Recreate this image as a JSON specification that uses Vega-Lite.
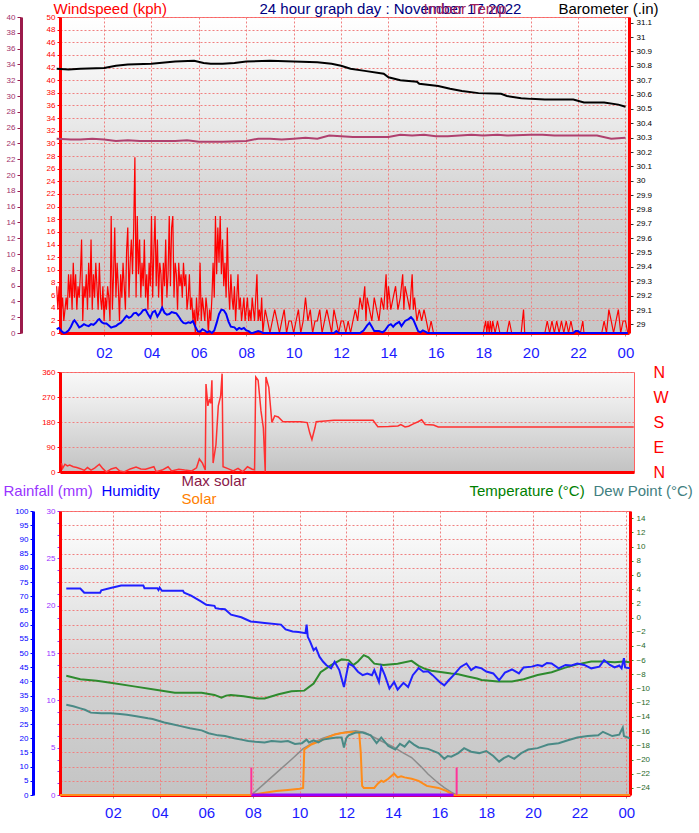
{
"$schema": "https://vega.github.io/schema/vega-lite/v6.json",
"padding": {"left": 2, "top": 0, "right": 2, "bottom": 0},
"background": "white",
"config": {"font": "Liberation Sans", "view": {"stroke": "#ff5050"}},
"datasets": {
"gust": [{"t":0,"v":7.4},{"t":0.05,"v":3.7},{"t":0.1,"v":7.4},{"t":0.15,"v":1.9},{"t":0.2,"v":3.7},{"t":0.25,"v":5.6},{"t":0.3,"v":1.9},{"t":0.35,"v":3.7},{"t":0.4,"v":5.6},{"t":0.45,"v":3.7},{"t":0.5,"v":9.3},{"t":0.55,"v":5.6},{"t":0.6,"v":9.3},{"t":0.65,"v":3.7},{"t":0.7,"v":11.1},{"t":0.75,"v":5.6},{"t":0.8,"v":9.3},{"t":0.85,"v":3.7},{"t":0.9,"v":7.4},{"t":0.95,"v":5.6},{"t":1,"v":9.3},{"t":1.05,"v":14.8},{"t":1.1,"v":1.9},{"t":1.15,"v":7.4},{"t":1.2,"v":5.6},{"t":1.25,"v":9.3},{"t":1.3,"v":3.7},{"t":1.35,"v":11.1},{"t":1.4,"v":5.6},{"t":1.45,"v":14.8},{"t":1.5,"v":3.7},{"t":1.55,"v":9.3},{"t":1.6,"v":5.6},{"t":1.65,"v":11.1},{"t":1.7,"v":7.4},{"t":1.75,"v":3.7},{"t":1.8,"v":11.1},{"t":1.85,"v":5.6},{"t":1.9,"v":3.7},{"t":1.95,"v":7.4},{"t":2,"v":1.9},{"t":2.05,"v":5.6},{"t":2.1,"v":3.7},{"t":2.15,"v":7.4},{"t":2.2,"v":5.6},{"t":2.25,"v":1.9},{"t":2.3,"v":18.5},{"t":2.35,"v":3.7},{"t":2.4,"v":9.3},{"t":2.45,"v":16.7},{"t":2.5,"v":5.6},{"t":2.55,"v":11.1},{"t":2.6,"v":7.4},{"t":2.65,"v":1.9},{"t":2.7,"v":9.3},{"t":2.75,"v":5.6},{"t":2.8,"v":11.1},{"t":2.85,"v":7.4},{"t":2.9,"v":3.7},{"t":2.95,"v":13},{"t":3,"v":16.7},{"t":3.05,"v":5.6},{"t":3.1,"v":11.1},{"t":3.15,"v":14.8},{"t":3.2,"v":9.3},{"t":3.25,"v":16.7},{"t":3.3,"v":27.8},{"t":3.35,"v":5.6},{"t":3.4,"v":18.5},{"t":3.45,"v":9.3},{"t":3.5,"v":14.8},{"t":3.55,"v":5.6},{"t":3.6,"v":11.1},{"t":3.65,"v":7.4},{"t":3.7,"v":14.8},{"t":3.75,"v":5.6},{"t":3.8,"v":9.3},{"t":3.85,"v":3.7},{"t":3.9,"v":11.1},{"t":3.95,"v":7.4},{"t":4,"v":18.5},{"t":4.05,"v":5.6},{"t":4.1,"v":13},{"t":4.15,"v":18.5},{"t":4.2,"v":7.4},{"t":4.25,"v":14.8},{"t":4.3,"v":5.6},{"t":4.35,"v":11.1},{"t":4.4,"v":9.3},{"t":4.45,"v":3.7},{"t":4.5,"v":11.1},{"t":4.55,"v":7.4},{"t":4.6,"v":14.8},{"t":4.65,"v":5.6},{"t":4.7,"v":9.3},{"t":4.75,"v":18.5},{"t":4.8,"v":7.4},{"t":4.85,"v":16.7},{"t":4.9,"v":18.5},{"t":4.95,"v":5.6},{"t":5,"v":11.1},{"t":5.05,"v":9.3},{"t":5.1,"v":3.7},{"t":5.15,"v":11.1},{"t":5.2,"v":7.4},{"t":5.25,"v":9.3},{"t":5.3,"v":5.6},{"t":5.35,"v":11.1},{"t":5.4,"v":7.4},{"t":5.45,"v":9.3},{"t":5.5,"v":3.7},{"t":5.55,"v":5.6},{"t":5.6,"v":9.3},{"t":5.65,"v":3.7},{"t":5.7,"v":5.6},{"t":5.75,"v":1.9},{"t":5.8,"v":3.7},{"t":5.85,"v":0},{"t":5.9,"v":5.6},{"t":5.95,"v":1.9},{"t":6,"v":3.7},{"t":6.05,"v":11.1},{"t":6.1,"v":1.9},{"t":6.15,"v":5.6},{"t":6.2,"v":3.7},{"t":6.25,"v":1.9},{"t":6.3,"v":5.6},{"t":6.35,"v":3.7},{"t":6.4,"v":0},{"t":6.45,"v":3.7},{"t":6.5,"v":1.9},{"t":6.55,"v":5.6},{"t":6.6,"v":11.1},{"t":6.65,"v":5.6},{"t":6.7,"v":18.5},{"t":6.75,"v":9.3},{"t":6.8,"v":16.7},{"t":6.85,"v":11.1},{"t":6.9,"v":18.5},{"t":6.95,"v":9.3},{"t":7,"v":14.8},{"t":7.05,"v":7.4},{"t":7.1,"v":11.1},{"t":7.15,"v":5.6},{"t":7.2,"v":16.7},{"t":7.25,"v":7.4},{"t":7.3,"v":3.7},{"t":7.35,"v":9.3},{"t":7.4,"v":5.6},{"t":7.45,"v":3.7},{"t":7.5,"v":7.4},{"t":7.55,"v":1.9},{"t":7.6,"v":5.6},{"t":7.65,"v":9.3},{"t":7.7,"v":3.7},{"t":7.75,"v":5.6},{"t":7.8,"v":1.9},{"t":7.85,"v":3.7},{"t":7.9,"v":5.6},{"t":7.95,"v":1.9},{"t":8,"v":3.7},{"t":8.05,"v":5.6},{"t":8.1,"v":1.9},{"t":8.15,"v":3.7},{"t":8.2,"v":1.9},{"t":8.25,"v":5.6},{"t":8.3,"v":3.7},{"t":8.35,"v":1.9},{"t":8.4,"v":5.6},{"t":8.45,"v":9.3},{"t":8.5,"v":1.9},{"t":8.55,"v":3.7},{"t":8.6,"v":1.9},{"t":8.65,"v":5.6},{"t":8.7,"v":0},{"t":8.75,"v":1.9},{"t":8.8,"v":3.7},{"t":8.9,"v":1.9},{"t":9,"v":0},{"t":9.1,"v":1.9},{"t":9.2,"v":3.7},{"t":9.3,"v":1.9},{"t":9.4,"v":0},{"t":9.5,"v":1.9},{"t":9.6,"v":3.7},{"t":9.7,"v":0},{"t":9.8,"v":1.9},{"t":9.9,"v":1.9},{"t":10,"v":0},{"t":10.1,"v":1.9},{"t":10.2,"v":3.7},{"t":10.3,"v":0},{"t":10.4,"v":1.9},{"t":10.5,"v":5.6},{"t":10.6,"v":1.9},{"t":10.7,"v":3.7},{"t":10.8,"v":0},{"t":10.9,"v":1.9},{"t":11,"v":1.9},{"t":11.1,"v":3.7},{"t":11.2,"v":0},{"t":11.3,"v":1.9},{"t":11.4,"v":3.7},{"t":11.5,"v":1.9},{"t":11.6,"v":0},{"t":11.7,"v":3.7},{"t":11.8,"v":1.9},{"t":11.9,"v":0},{"t":12,"v":1.9},{"t":12.1,"v":1.9},{"t":12.2,"v":0},{"t":12.3,"v":1.9},{"t":12.4,"v":0},{"t":12.5,"v":1.9},{"t":12.6,"v":3.7},{"t":12.7,"v":1.9},{"t":12.8,"v":5.6},{"t":12.9,"v":3.7},{"t":13,"v":7.4},{"t":13.05,"v":1.9},{"t":13.1,"v":5.6},{"t":13.2,"v":3.7},{"t":13.3,"v":1.9},{"t":13.4,"v":5.6},{"t":13.5,"v":3.7},{"t":13.6,"v":1.9},{"t":13.7,"v":5.6},{"t":13.8,"v":3.7},{"t":13.9,"v":9.3},{"t":13.95,"v":3.7},{"t":14,"v":7.4},{"t":14.1,"v":3.7},{"t":14.2,"v":5.6},{"t":14.3,"v":7.4},{"t":14.4,"v":3.7},{"t":14.5,"v":5.6},{"t":14.6,"v":9.3},{"t":14.65,"v":3.7},{"t":14.7,"v":7.4},{"t":14.8,"v":5.6},{"t":14.9,"v":3.7},{"t":15,"v":9.3},{"t":15.05,"v":3.7},{"t":15.1,"v":5.6},{"t":15.2,"v":1.9},{"t":15.3,"v":3.7},{"t":15.4,"v":1.9},{"t":15.5,"v":3.7},{"t":15.6,"v":1.9},{"t":15.7,"v":0},{"t":15.8,"v":1.9},{"t":15.9,"v":0},{"t":18,"v":0},{"t":18.1,"v":1.9},{"t":18.15,"v":0},{"t":18.2,"v":1.9},{"t":18.25,"v":0},{"t":18.3,"v":1.9},{"t":18.35,"v":0},{"t":18.4,"v":1.9},{"t":18.5,"v":0},{"t":18.6,"v":1.9},{"t":18.7,"v":0},{"t":19,"v":0},{"t":19.1,"v":1.9},{"t":19.2,"v":0},{"t":19.6,"v":0},{"t":19.7,"v":3.7},{"t":19.75,"v":0},{"t":20.6,"v":0},{"t":20.7,"v":1.9},{"t":20.8,"v":0},{"t":20.9,"v":1.9},{"t":21,"v":0},{"t":21.1,"v":1.9},{"t":21.2,"v":0},{"t":21.3,"v":1.9},{"t":21.4,"v":0},{"t":21.5,"v":1.9},{"t":21.6,"v":0},{"t":21.7,"v":1.9},{"t":21.8,"v":0},{"t":22.1,"v":0},{"t":22.2,"v":1.9},{"t":22.25,"v":0},{"t":23,"v":0},{"t":23.1,"v":1.9},{"t":23.2,"v":0},{"t":23.3,"v":3.7},{"t":23.4,"v":1.9},{"t":23.5,"v":0},{"t":23.6,"v":1.9},{"t":23.7,"v":3.7},{"t":23.8,"v":0},{"t":23.9,"v":1.9},{"t":24,"v":1.9},{"t":24.1,"v":0}],
"avg": [{"t":0,"v":0.6},{"t":0.1,"v":0.8},{"t":0.2,"v":0.3},{"t":0.3,"v":0},{"t":0.4,"v":0.1},{"t":0.5,"v":0.4},{"t":0.6,"v":1},{"t":0.7,"v":1.8},{"t":0.75,"v":2},{"t":0.85,"v":1.5},{"t":0.95,"v":0.9},{"t":1.05,"v":1.1},{"t":1.15,"v":1.4},{"t":1.25,"v":1.2},{"t":1.35,"v":1.1},{"t":1.45,"v":1.4},{"t":1.55,"v":1.3},{"t":1.65,"v":1.6},{"t":1.75,"v":2.1},{"t":1.8,"v":2.2},{"t":1.9,"v":1.7},{"t":2,"v":1.5},{"t":2.1,"v":1.5},{"t":2.2,"v":1.2},{"t":2.3,"v":0.85},{"t":2.4,"v":1},{"t":2.5,"v":1.1},{"t":2.6,"v":1.4},{"t":2.7,"v":1.6},{"t":2.8,"v":2},{"t":2.9,"v":2.5},{"t":2.95,"v":2.7},{"t":3.05,"v":2.4},{"t":3.15,"v":2.6},{"t":3.25,"v":3.1},{"t":3.35,"v":3.2},{"t":3.45,"v":2.8},{"t":3.55,"v":3.1},{"t":3.65,"v":3.6},{"t":3.75,"v":3.7},{"t":3.85,"v":3},{"t":3.95,"v":2.4},{"t":4.05,"v":3.3},{"t":4.15,"v":3.5},{"t":4.25,"v":2.6},{"t":4.35,"v":3.2},{"t":4.45,"v":4},{"t":4.55,"v":3.2},{"t":4.65,"v":2.9},{"t":4.75,"v":3},{"t":4.85,"v":3.3},{"t":4.95,"v":3.2},{"t":5.05,"v":3.1},{"t":5.15,"v":2.6},{"t":5.25,"v":2},{"t":5.35,"v":1.6},{"t":5.45,"v":1.5},{"t":5.55,"v":1.7},{"t":5.65,"v":1.6},{"t":5.75,"v":1.9},{"t":5.85,"v":1},{"t":5.95,"v":0.3},{"t":6.05,"v":0.2},{"t":6.15,"v":0.6},{"t":6.25,"v":0.4},{"t":6.35,"v":0.1},{"t":6.45,"v":0.3},{"t":6.55,"v":0},{"t":6.65,"v":0.4},{"t":6.75,"v":1.6},{"t":6.85,"v":3},{"t":6.95,"v":3.7},{"t":7.05,"v":3.6},{"t":7.15,"v":3},{"t":7.25,"v":1.8},{"t":7.35,"v":1},{"t":7.5,"v":0.9},{"t":7.6,"v":0.5},{"t":7.7,"v":0.8},{"t":7.8,"v":0.6},{"t":7.9,"v":0.8},{"t":8,"v":0.4},{"t":8.1,"v":0.3},{"t":8.2,"v":0},{"t":8.3,"v":0.05},{"t":8.5,"v":0.3},{"t":8.6,"v":0.2},{"t":8.7,"v":0},{"t":11.7,"v":0},{"t":11.8,"v":0.3},{"t":11.9,"v":0},{"t":12.8,"v":0},{"t":12.95,"v":0.4},{"t":13.1,"v":1.2},{"t":13.2,"v":1.6},{"t":13.3,"v":1},{"t":13.4,"v":0.3},{"t":13.6,"v":0.3},{"t":13.75,"v":0.1},{"t":13.85,"v":0.4},{"t":14,"v":1.2},{"t":14.1,"v":1.4},{"t":14.2,"v":1},{"t":14.3,"v":1.4},{"t":14.45,"v":1.75},{"t":14.55,"v":1.1},{"t":14.7,"v":1.9},{"t":14.85,"v":2.2},{"t":14.95,"v":2.5},{"t":15.05,"v":2.1},{"t":15.15,"v":1.2},{"t":15.25,"v":0.3},{"t":15.35,"v":0.1},{"t":15.45,"v":0.4},{"t":15.55,"v":0.2},{"t":15.65,"v":0},{"t":21.8,"v":0},{"t":21.9,"v":0.3},{"t":22,"v":0.3},{"t":22.1,"v":0},{"t":24.1,"v":0}],
"baro": [{"t":0,"v":30.78},{"t":0.5,"v":30.775},{"t":1,"v":30.78},{"t":2,"v":30.785},{"t":2.5,"v":30.8},{"t":3,"v":30.81},{"t":4,"v":30.815},{"t":5,"v":30.83},{"t":5.8,"v":30.835},{"t":6.2,"v":30.82},{"t":6.5,"v":30.815},{"t":7,"v":30.815},{"t":7.5,"v":30.82},{"t":8,"v":30.83},{"t":9,"v":30.835},{"t":10,"v":30.83},{"t":11,"v":30.825},{"t":11.6,"v":30.815},{"t":12,"v":30.8},{"t":12.4,"v":30.78},{"t":13,"v":30.765},{"t":13.8,"v":30.745},{"t":14,"v":30.72},{"t":14.5,"v":30.7},{"t":15.2,"v":30.69},{"t":15.3,"v":30.675},{"t":16.1,"v":30.66},{"t":16.6,"v":30.64},{"t":17.1,"v":30.625},{"t":17.8,"v":30.61},{"t":18.75,"v":30.605},{"t":19,"v":30.59},{"t":19.6,"v":30.575},{"t":20,"v":30.57},{"t":20.6,"v":30.565},{"t":21.8,"v":30.565},{"t":22.25,"v":30.545},{"t":23.1,"v":30.545},{"t":23.7,"v":30.53},{"t":24,"v":30.515}],
"indoor": [{"t":0,"v":24.6},{"t":0.6,"v":24.5},{"t":1,"v":24.5},{"t":1.5,"v":24.6},{"t":2,"v":24.5},{"t":2.5,"v":24.3},{"t":3,"v":24.4},{"t":3.5,"v":24.3},{"t":4,"v":24.3},{"t":5,"v":24.3},{"t":5.5,"v":24.4},{"t":6,"v":24.2},{"t":7,"v":24.2},{"t":8,"v":24.3},{"t":8.5,"v":24.6},{"t":9,"v":24.6},{"t":9.5,"v":24.5},{"t":10,"v":24.6},{"t":10.5,"v":24.7},{"t":11,"v":24.6},{"t":11.5,"v":25},{"t":12,"v":24.9},{"t":12.5,"v":24.8},{"t":13,"v":24.8},{"t":14,"v":24.8},{"t":14.5,"v":25.1},{"t":15,"v":25},{"t":15.5,"v":25.1},{"t":16,"v":24.9},{"t":16.5,"v":24.9},{"t":17,"v":25},{"t":17.5,"v":25.1},{"t":18,"v":25},{"t":18.6,"v":25.1},{"t":19,"v":25},{"t":20,"v":25.1},{"t":20.5,"v":25.1},{"t":21,"v":25},{"t":22,"v":25},{"t":22.8,"v":25},{"t":23.4,"v":24.6},{"t":24,"v":24.7}],
"dir": [{"t":0.2,"v":32},{"t":0.25,"v":13},{"t":0.35,"v":28},{"t":0.45,"v":22},{"t":0.55,"v":25},{"t":0.7,"v":19},{"t":0.85,"v":16},{"t":1,"v":12},{"t":1.17,"v":6},{"t":1.3,"v":16},{"t":1.45,"v":7},{"t":1.6,"v":14},{"t":1.8,"v":28},{"t":1.95,"v":12},{"t":2.1,"v":0},{"t":2.3,"v":11},{"t":2.5,"v":16},{"t":2.65,"v":4},{"t":2.85,"v":0},{"t":3.1,"v":11},{"t":3.35,"v":18},{"t":3.55,"v":11},{"t":3.75,"v":10},{"t":4.1,"v":19},{"t":4.2,"v":1},{"t":4.45,"v":7},{"t":4.7,"v":19},{"t":4.85,"v":4},{"t":5.15,"v":10},{"t":5.4,"v":7},{"t":5.7,"v":4},{"t":5.9,"v":15},{"t":6.02,"v":47},{"t":6.15,"v":32},{"t":6.27,"v":7},{"t":6.3,"v":317},{"t":6.38,"v":238},{"t":6.45,"v":263},{"t":6.5,"v":247},{"t":6.55,"v":330},{"t":6.6,"v":32},{"t":6.72,"v":98},{"t":6.82,"v":238},{"t":6.92,"v":275},{"t":6.98,"v":354},{"t":7.02,"v":19},{"t":7.2,"v":13},{"t":7.45,"v":4},{"t":7.65,"v":13},{"t":7.85,"v":1},{"t":8.05,"v":19},{"t":8.25,"v":10},{"t":8.35,"v":8},{"t":8.4,"v":342},{"t":8.5,"v":330},{"t":8.62,"v":220},{"t":8.72,"v":159},{"t":8.8,"v":1},{"t":8.83,"v":342},{"t":8.95,"v":305},{"t":9.08,"v":178},{"t":9.2,"v":202},{"t":9.35,"v":198},{"t":9.55,"v":181},{"t":10.3,"v":181},{"t":10.57,"v":178},{"t":10.68,"v":140},{"t":10.77,"v":117},{"t":10.9,"v":160},{"t":10.95,"v":181},{"t":11.2,"v":183},{"t":11.7,"v":186},{"t":12.4,"v":186},{"t":13.35,"v":186},{"t":13.55,"v":163},{"t":14,"v":164},{"t":14.4,"v":166},{"t":14.52,"v":171},{"t":14.7,"v":162},{"t":14.85,"v":165},{"t":15.05,"v":173},{"t":15.25,"v":181},{"t":15.4,"v":188},{"t":15.55,"v":171},{"t":15.9,"v":169},{"t":16.1,"v":162},{"t":24.35,"v":162}],
"hum": [{"t":0,"v":72.7},{"t":0.6,"v":72.7},{"t":0.77,"v":71.2},{"t":1.45,"v":71.2},{"t":1.5,"v":72.1},{"t":1.9,"v":72.9},{"t":2.35,"v":73.8},{"t":3.3,"v":73.8},{"t":3.35,"v":72.8},{"t":3.9,"v":72.8},{"t":3.95,"v":72.2},{"t":4,"v":73},{"t":4.1,"v":71.9},{"t":5,"v":71.9},{"t":5.05,"v":71.2},{"t":5.35,"v":70.2},{"t":5.55,"v":69.2},{"t":5.77,"v":68.2},{"t":6,"v":67},{"t":6.35,"v":66.6},{"t":6.4,"v":65.8},{"t":6.55,"v":65.6},{"t":6.8,"v":65.4},{"t":7.06,"v":63.5},{"t":7.5,"v":62.6},{"t":7.9,"v":61.1},{"t":8.5,"v":60.6},{"t":9.2,"v":60},{"t":9.4,"v":58.3},{"t":9.7,"v":57.6},{"t":9.95,"v":57.4},{"t":10.25,"v":57},{"t":10.3,"v":60},{"t":10.35,"v":55.7},{"t":10.45,"v":54},{"t":10.6,"v":51},{"t":10.7,"v":51.8},{"t":10.85,"v":48.7},{"t":11,"v":47},{"t":11.15,"v":45.7},{"t":11.35,"v":44.6},{"t":11.5,"v":46.9},{"t":11.7,"v":44},{"t":11.9,"v":38},{"t":12,"v":42.2},{"t":12.1,"v":46.3},{"t":12.3,"v":45.4},{"t":12.5,"v":43.4},{"t":12.7,"v":42.2},{"t":12.9,"v":42.8},{"t":13.1,"v":42.2},{"t":13.2,"v":44},{"t":13.4,"v":39.8},{"t":13.5,"v":45.1},{"t":13.65,"v":42.2},{"t":13.85,"v":37.5},{"t":14.05,"v":39.8},{"t":14.2,"v":37.1},{"t":14.45,"v":39.5},{"t":14.65,"v":38},{"t":14.85,"v":42.2},{"t":15.1,"v":44.7},{"t":15.3,"v":43.4},{"t":15.5,"v":43.6},{"t":15.7,"v":42.2},{"t":16,"v":39.8},{"t":16.2,"v":38.6},{"t":16.4,"v":40.5},{"t":16.6,"v":42.2},{"t":16.9,"v":45.1},{"t":17.15,"v":46.3},{"t":17.35,"v":44},{"t":17.55,"v":45.1},{"t":17.8,"v":44.6},{"t":18,"v":43.5},{"t":18.3,"v":42.8},{"t":18.55,"v":40.4},{"t":18.8,"v":43.1},{"t":19.1,"v":44.2},{"t":19.4,"v":42.8},{"t":19.6,"v":44.9},{"t":19.95,"v":45.2},{"t":20.2,"v":45.8},{"t":20.4,"v":45.4},{"t":20.6,"v":46.5},{"t":20.8,"v":46.3},{"t":21.1,"v":44.6},{"t":21.4,"v":45.8},{"t":21.65,"v":45.6},{"t":21.9,"v":46.3},{"t":22.2,"v":45.8},{"t":22.5,"v":44.6},{"t":22.85,"v":45.2},{"t":23.05,"v":47.5},{"t":23.3,"v":45.8},{"t":23.5,"v":44.9},{"t":23.7,"v":45.6},{"t":23.8,"v":44.6},{"t":23.9,"v":48.2},{"t":23.95,"v":44.9},{"t":24.15,"v":44.6}],
"temp": [{"t":0,"v":-8.2},{"t":0.6,"v":-8.7},{"t":1.3,"v":-8.9},{"t":1.9,"v":-9.2},{"t":2.9,"v":-9.7},{"t":3.9,"v":-10.2},{"t":4.65,"v":-10.6},{"t":5.8,"v":-10.6},{"t":6.35,"v":-10.9},{"t":6.65,"v":-11.3},{"t":6.85,"v":-11},{"t":7.05,"v":-10.9},{"t":7.6,"v":-11.1},{"t":8.2,"v":-11.4},{"t":8.5,"v":-11.4},{"t":9.1,"v":-10.8},{"t":9.65,"v":-10.4},{"t":10.2,"v":-10.3},{"t":10.6,"v":-9.3},{"t":10.9,"v":-7.7},{"t":11.35,"v":-6.7},{"t":11.8,"v":-5.9},{"t":12.1,"v":-6},{"t":12.3,"v":-6.7},{"t":12.5,"v":-6.2},{"t":12.75,"v":-5.3},{"t":12.95,"v":-5.6},{"t":13.2,"v":-6.5},{"t":13.6,"v":-6.7},{"t":14.2,"v":-6.5},{"t":14.8,"v":-6.1},{"t":15.1,"v":-6.8},{"t":15.35,"v":-7.2},{"t":15.65,"v":-7.5},{"t":16.5,"v":-7.9},{"t":16.8,"v":-8},{"t":17.2,"v":-8.3},{"t":17.6,"v":-8.6},{"t":17.8,"v":-8.8},{"t":18.5,"v":-9},{"t":19.1,"v":-9},{"t":19.6,"v":-8.7},{"t":20.2,"v":-8.1},{"t":20.8,"v":-7.7},{"t":21.35,"v":-7.1},{"t":21.9,"v":-6.6},{"t":22.5,"v":-6.2},{"t":23,"v":-6.2},{"t":23.5,"v":-6.3},{"t":23.9,"v":-6.2},{"t":24.15,"v":-6.3}],
"dew": [{"t":0,"v":-12.3},{"t":0.3,"v":-12.5},{"t":0.6,"v":-12.8},{"t":0.8,"v":-13},{"t":1.05,"v":-13.4},{"t":1.5,"v":-13.5},{"t":1.9,"v":-13.5},{"t":2.3,"v":-13.6},{"t":2.6,"v":-13.7},{"t":3,"v":-13.9},{"t":3.5,"v":-14.2},{"t":3.7,"v":-14.3},{"t":4.2,"v":-14.8},{"t":4.5,"v":-15},{"t":4.9,"v":-15.3},{"t":5.3,"v":-15.6},{"t":5.8,"v":-15.9},{"t":6.1,"v":-16.3},{"t":6.5,"v":-16.6},{"t":6.8,"v":-16.7},{"t":7.2,"v":-17},{"t":7.5,"v":-17.2},{"t":7.8,"v":-17.4},{"t":8.1,"v":-17.5},{"t":8.5,"v":-17.6},{"t":8.8,"v":-17.4},{"t":9.2,"v":-17.5},{"t":9.5,"v":-17.4},{"t":9.8,"v":-17.8},{"t":10.1,"v":-17.7},{"t":10.3,"v":-17.2},{"t":10.4,"v":-17.6},{"t":10.6,"v":-17.3},{"t":10.8,"v":-17.6},{"t":11,"v":-17.2},{"t":11.35,"v":-17},{"t":11.6,"v":-16.9},{"t":11.8,"v":-16.9},{"t":11.9,"v":-18.3},{"t":12,"v":-17},{"t":12.1,"v":-16.6},{"t":12.4,"v":-16.2},{"t":12.7,"v":-16.2},{"t":13.05,"v":-16.6},{"t":13.3,"v":-17.7},{"t":13.5,"v":-16.9},{"t":13.8,"v":-18.1},{"t":14.1,"v":-18.6},{"t":14.3,"v":-17.8},{"t":14.5,"v":-18.2},{"t":14.7,"v":-17.4},{"t":14.9,"v":-17.9},{"t":15.1,"v":-18.3},{"t":15.5,"v":-18.5},{"t":15.95,"v":-19.1},{"t":16.2,"v":-19.9},{"t":16.35,"v":-19.5},{"t":16.5,"v":-19.6},{"t":16.8,"v":-19.1},{"t":17.05,"v":-18.4},{"t":17.35,"v":-18.9},{"t":17.7,"v":-19.1},{"t":18,"v":-18.8},{"t":18.3,"v":-19.5},{"t":18.55,"v":-20.3},{"t":18.75,"v":-19.8},{"t":18.95,"v":-19.5},{"t":19.2,"v":-19.9},{"t":19.5,"v":-19.1},{"t":19.8,"v":-18.6},{"t":20.2,"v":-18.4},{"t":20.65,"v":-17.9},{"t":21.1,"v":-17.7},{"t":21.5,"v":-17.3},{"t":21.9,"v":-16.9},{"t":22.35,"v":-16.7},{"t":22.8,"v":-16.6},{"t":23,"v":-16.1},{"t":23.4,"v":-16.7},{"t":23.7,"v":-16.5},{"t":23.85,"v":-15.5},{"t":23.9,"v":-16.7},{"t":24.15,"v":-17}],
"solar": [{"t":-0.27,"v":0},{"t":7.93,"v":0},{"t":8.5,"v":8},{"t":9,"v":14},{"t":9.5,"v":18},{"t":10,"v":22},{"t":10.15,"v":25},{"t":10.2,"v":160},{"t":10.5,"v":178},{"t":10.9,"v":191},{"t":11.2,"v":203},{"t":11.5,"v":213},{"t":11.8,"v":218},{"t":12.1,"v":221},{"t":12.55,"v":221},{"t":12.62,"v":150},{"t":12.68,"v":32},{"t":12.75,"v":25},{"t":13.2,"v":25},{"t":13.35,"v":40},{"t":13.5,"v":50},{"t":13.6,"v":46},{"t":13.8,"v":57},{"t":14.05,"v":75},{"t":14.2,"v":62},{"t":14.35,"v":66},{"t":14.5,"v":62},{"t":14.8,"v":57},{"t":15.1,"v":50},{"t":15.45,"v":32},{"t":15.95,"v":25},{"t":16.3,"v":14},{"t":16.6,"v":0},{"t":24.16,"v":0}],
"maxsolar": [{"t":7.93,"v":0},{"t":8.5,"v":41},{"t":9.1,"v":85},{"t":9.65,"v":125},{"t":10.15,"v":163},{"t":10.6,"v":185},{"t":11,"v":200},{"t":11.5,"v":213},{"t":12,"v":222},{"t":12.4,"v":226},{"t":12.8,"v":220},{"t":13.05,"v":209},{"t":13.5,"v":190},{"t":14,"v":170},{"t":14.4,"v":150},{"t":14.8,"v":132},{"t":15.2,"v":100},{"t":15.5,"v":74},{"t":15.9,"v":45},{"t":16.2,"v":26},{"t":16.5,"v":10},{"t":16.73,"v":0}],
"rain": [{"t":7.93,"v":0},{"t":16.6,"v":0}],
"sun": [{"t":7.93,"event":"sunrise"},{"t":16.73,"event":"sunset"}]
},
"bounds": "flush",
"spacing": 39,
"vconcat": [
{
"width": 569,
"height": 316,
"view": {"stroke": "#ff6060", "fill": {"gradient": "linear", "x1": 0, "y1": 0, "x2": 0, "y2": 1, "stops": [{"offset": 0, "color": "#ffffff"}, {"offset": 0.3, "color": "#ececec"}, {"offset": 0.55, "color": "#d6d6d6"}, {"offset": 1, "color": "#c6c6c6"}]}},
"encoding": {"x": {"field": "t", "type": "quantitative", "scale": {"domain": [0.14, 24.15], "nice": false, "zero": false}, "axis": {"title": null, "values": [2,4,6,8,10,12,14,16,18,20,22,24], "labelExpr": "(datum.value % 24 < 10 ? '0' : '') + (datum.value % 24)", "labelColor": "#1a1aff", "labelFontSize": 15, "labelPadding": 9, "tickSize": 3, "tickColor": "#999999", "domainColor": "#ff0000", "domainWidth": 3, "grid": true, "gridColor": "#f08080", "gridDash": [2, 2]}}},
"layer": [
{"data": {"name": "gust"}, "mark": {"type": "line", "color": "#ff0000", "strokeWidth": 1.2}, "encoding": {"y": {"field": "v", "type": "quantitative", "scale": {"domain": [0, 50], "nice": false}, "axis": {"orient": "left", "values": [0,2,4,6,8,10,12,14,16,18,20,22,24,26,28,30,32,34,36,38,40,42,44,46,48,50], "labelColor": "#ff0000", "labelFontSize": 8, "labelPadding": 2, "tickColor": "#ff0000", "tickSize": 3, "domainColor": "#ff0000", "domainWidth": 3, "grid": true, "gridColor": "#f08080", "gridDash": [2, 2], "title": "Windspeed (kph)", "titleColor": "#ff0000", "titleFontSize": 15, "titleFontWeight": "normal", "titleAngle": 0, "titleAlign": "left", "titleBaseline": "middle", "titleX": -7, "titleY": -9}}}},
{"data": {"name": "avg"}, "mark": {"type": "line", "color": "#0000ff", "strokeWidth": 2}, "encoding": {"y": {"field": "v", "type": "quantitative", "scale": {"domain": [0, 50], "nice": false}, "axis": {"orient": "left", "labels": false, "ticks": false, "domain": false, "grid": false, "title": "24 hour graph day : November 17 2022", "titleColor": "#000080", "titleFontSize": 15, "titleFontWeight": "normal", "titleAngle": 0, "titleAlign": "left", "titleBaseline": "middle", "titleX": 199, "titleY": -9}}}},
{"data": {"name": "baro"}, "mark": {"type": "line", "color": "#000000", "strokeWidth": 2}, "encoding": {"y": {"field": "v", "type": "quantitative", "scale": {"domain": [28.94, 31.14], "nice": false, "zero": false}, "axis": {"orient": "right", "values": [29,29.1,29.2,29.3,29.4,29.5,29.6,29.7,29.8,29.9,30,30.1,30.2,30.3,30.4,30.5,30.6,30.7,30.8,30.9,31,31.1], "format": "~g", "labelColor": "#000000", "labelFontSize": 8, "labelPadding": 3, "tickColor": "#333333", "tickSize": 4, "domainColor": "#ff0000", "domainWidth": 3, "grid": false, "title": "Barometer (.in)", "titleColor": "#000000", "titleFontSize": 15, "titleFontWeight": "normal", "titleAngle": 0, "titleAlign": "left", "titleBaseline": "middle", "titleX": -71, "titleY": -9}}}},
{"data": {"name": "indoor"}, "mark": {"type": "line", "color": "#b0406e", "strokeWidth": 2}, "encoding": {"y": {"field": "v", "type": "quantitative", "scale": {"domain": [0, 40], "nice": false}, "axis": {"orient": "left", "offset": 39, "values": [0,2,4,6,8,10,12,14,16,18,20,22,24,26,28,30,32,34,36,38,40], "labelColor": "#a0306a", "labelFontSize": 8, "labelPadding": 2, "tickColor": "#9b1b4b", "tickSize": 4, "domainColor": "#9b1b4b", "domainWidth": 3, "grid": false, "title": "Indoor Temp", "titleColor": "#a0205a", "titleFontSize": 15, "titleFontWeight": "normal", "titleAngle": 0, "titleAlign": "left", "titleBaseline": "middle", "titleX": 402, "titleY": -9}}}}
],
"resolve": {"scale": {"y": "independent"}, "axis": {"y": "independent"}}
},
{
"width": 574,
"height": 100,
"view": {"stroke": "#ff6060", "fill": {"gradient": "linear", "x1": 0, "y1": 0, "x2": 0, "y2": 1, "stops": [{"offset": 0, "color": "#f8f8f8"}, {"offset": 0.3, "color": "#ebebeb"}, {"offset": 1, "color": "#c2c2c2"}]}},
"encoding": {"x": {"field": "t", "type": "quantitative", "scale": {"domain": [0.14, 24.36], "nice": false, "zero": false}, "axis": {"title": null, "labels": false, "ticks": false, "grid": false, "domainColor": "#ff0000", "domainWidth": 3}}},
"layer": [
{"data": {"name": "dir"}, "mark": {"type": "line", "color": "#ff3030", "strokeWidth": 1.5}, "encoding": {"y": {"field": "v", "type": "quantitative", "scale": {"domain": [0, 360], "nice": false}, "axis": {"orient": "left", "title": null, "values": [0, 90, 180, 270, 360], "labelColor": "#ff0000", "labelFontSize": 8, "labelPadding": 2, "tickColor": "#ff0000", "tickSize": 3, "domainColor": "#ff0000", "domainWidth": 3, "grid": true, "gridColor": "#f08080", "gridDash": [2, 2]}}}},
{"data": {"name": "dir"}, "mark": {"type": "line", "strokeOpacity": 0}, "encoding": {"y": {"field": "v", "type": "quantitative", "scale": {"domain": [0, 360], "nice": false}, "axis": {"orient": "right", "title": null, "values": [0, 90, 180, 270, 360], "labelExpr": "datum.value == 0 || datum.value == 360 ? 'N' : datum.value == 90 ? 'E' : datum.value == 180 ? 'S' : 'W'", "labelColor": "#ff0000", "labelFontSize": 16, "labelPadding": 19, "ticks": false, "domain": false, "grid": false}}}}
],
"resolve": {"scale": {"y": "independent"}, "axis": {"y": "independent"}}
},
{
"width": 570,
"height": 284,
"view": {"stroke": "#ff6060", "fill": {"gradient": "linear", "x1": 0, "y1": 0, "x2": 0, "y2": 1, "stops": [{"offset": 0, "color": "#ffffff"}, {"offset": 0.35, "color": "#e6e6e6"}, {"offset": 0.6, "color": "#d2d2d2"}, {"offset": 1, "color": "#c4c4c4"}]}},
"encoding": {"x": {"field": "t", "type": "quantitative", "scale": {"domain": [-0.27, 24.16], "nice": false, "zero": false}, "axis": {"title": null, "values": [2,4,6,8,10,12,14,16,18,20,22,24], "labelExpr": "(datum.value % 24 < 10 ? '0' : '') + (datum.value % 24)", "labelColor": "#1a1aff", "labelFontSize": 15, "labelPadding": 7, "tickSize": 3, "tickColor": "#999999", "domainColor": "#ff0000", "domainWidth": 3, "grid": true, "gridColor": "#f08080", "gridDash": [2, 2]}}},
"layer": [
{"data": {"name": "maxsolar"}, "mark": {"type": "line", "color": "#8c8c8c", "strokeWidth": 1.5}, "encoding": {"y": {"field": "v", "type": "quantitative", "scale": {"domain": [0, 1000], "nice": false}, "axis": {"orient": "left", "values": [0,50,100,150,200,250,300,350,400,450,500,550,600,650,700,750,800,850,900,950,1000], "labels": false, "ticks": false, "domain": false, "grid": true, "gridColor": "#f08080", "gridDash": [2, 2], "title": "Max solar", "titleColor": "#8b1a4a", "titleFontSize": 15, "titleFontWeight": "normal", "titleAngle": 0, "titleAlign": "left", "titleBaseline": "middle", "titleX": 121, "titleY": -31}}}},
{"data": {"name": "solar"}, "mark": {"type": "line", "color": "#ff8c1a", "strokeWidth": 2}, "encoding": {"y": {"field": "v", "type": "quantitative", "scale": {"domain": [0, 1000], "nice": false}, "axis": {"orient": "left", "labels": false, "ticks": false, "domain": false, "grid": false, "title": "Solar", "titleColor": "#ff8000", "titleFontSize": 15, "titleFontWeight": "normal", "titleAngle": 0, "titleAlign": "left", "titleBaseline": "middle", "titleX": 121, "titleY": -13}}}},
{"data": {"name": "rain"}, "mark": {"type": "line", "color": "#9400ff", "strokeWidth": 3}, "encoding": {"y": {"field": "v", "type": "quantitative", "scale": {"domain": [0, 30], "nice": false}, "axis": {"orient": "left", "values": [0,1.25,2.5,3.75,5,6.25,7.5,8.75,10,11.25,12.5,13.75,15,16.25,17.5,18.75,20,21.25,22.5,23.75,25,26.25,27.5,28.75,30], "labelExpr": "datum.value % 5 == 0 ? datum.label : ''", "labelColor": "#9933ff", "labelFontSize": 8, "labelPadding": 2, "tickColor": "#9933ff", "tickSize": 3, "domainColor": "#ff0000", "domainWidth": 3, "grid": false, "title": "Rainfall (mm)", "titleColor": "#9933ff", "titleFontSize": 15, "titleFontWeight": "normal", "titleAngle": 0, "titleAlign": "left", "titleBaseline": "middle", "titleX": -57, "titleY": -21}}}},
{"data": {"name": "temp"}, "mark": {"type": "line", "color": "#2e8b2e", "strokeWidth": 2}, "encoding": {"y": {"field": "v", "type": "quantitative", "scale": {"domain": [-25, 15], "nice": false, "zero": false}, "axis": {"orient": "right", "values": [-24,-22,-20,-18,-16,-14,-12,-10,-8,-6,-4,-2,0,2,4,6,8,10,12,14], "labelColor": "#2a6a2a", "labelFontSize": 8, "labelPadding": 3, "tickColor": "#2e8b2e", "tickSize": 3, "domainColor": "#ff0000", "domainWidth": 3, "grid": false, "title": "Temperature (°C)", "titleColor": "#008000", "titleFontSize": 15, "titleFontWeight": "normal", "titleAngle": 0, "titleAlign": "left", "titleBaseline": "middle", "titleX": -161, "titleY": -21}}}},
{"data": {"name": "dew"}, "mark": {"type": "line", "color": "#4a8a86", "strokeWidth": 2}, "encoding": {"y": {"field": "v", "type": "quantitative", "scale": {"domain": [-25, 15], "nice": false, "zero": false}, "axis": {"orient": "right", "labels": false, "ticks": false, "domain": false, "grid": false, "title": "Dew Point (°C)", "titleColor": "#3f8080", "titleFontSize": 15, "titleFontWeight": "normal", "titleAngle": 0, "titleAlign": "left", "titleBaseline": "middle", "titleX": -37, "titleY": -21}}}},
{"data": {"name": "hum"}, "mark": {"type": "line", "color": "#2020ff", "strokeWidth": 2}, "encoding": {"y": {"field": "v", "type": "quantitative", "scale": {"domain": [0, 100], "nice": false}, "axis": {"orient": "left", "offset": 27, "values": [0,5,10,15,20,25,30,35,40,45,50,55,60,65,70,75,80,85,90,95,100], "labelColor": "#0000ff", "labelFontSize": 8, "labelPadding": 2, "tickColor": "#0000ff", "tickSize": 3, "domainColor": "#0000ff", "domainWidth": 3, "grid": false, "title": "Humidity", "titleColor": "#0000ff", "titleFontSize": 15, "titleFontWeight": "normal", "titleAngle": 0, "titleAlign": "left", "titleBaseline": "middle", "titleX": 68, "titleY": -21}}}},
{"data": {"name": "sun"}, "mark": {"type": "rule", "color": "#ff3399", "strokeWidth": 2}, "encoding": {"y": {"datum": 0, "type": "quantitative", "scale": {"domain": [0, 30], "nice": false}, "axis": null}, "y2": {"datum": 2.9}}}
],
"resolve": {"scale": {"y": "independent"}, "axis": {"y": "independent"}}
}
]
}
